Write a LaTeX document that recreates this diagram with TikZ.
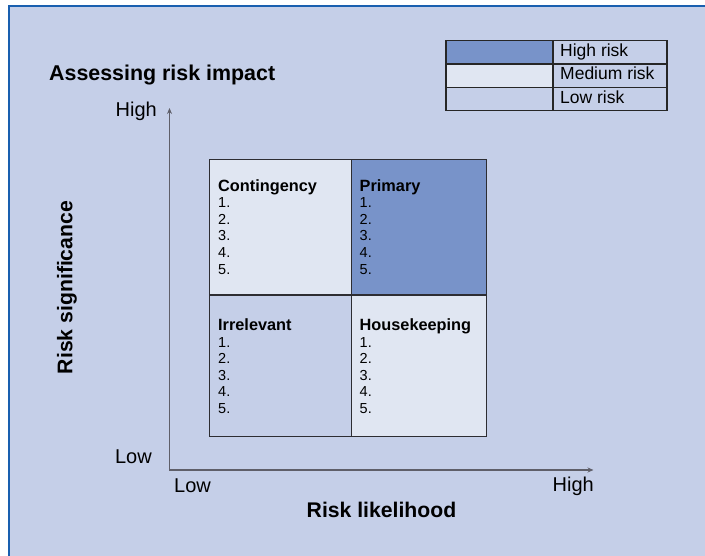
\documentclass[tikz,border=0pt]{standalone}
\usepackage{fontspec}
\setmainfont{Liberation Sans}
\usetikzlibrary{arrows.meta}

\definecolor{bgblue}{RGB}{197,207,232}
\definecolor{frameblue}{RGB}{25,95,175}
\definecolor{hirisk}{RGB}{120,147,201}
\definecolor{medrisk}{RGB}{224,230,242}
\definecolor{gridline}{RGB}{45,45,50}
\definecolor{axisgray}{RGB}{95,95,105}

\newcommand{\headfont}{\fontsize{16.3}{16.6}\selectfont\bfseries}

\begin{document}
\begin{tikzpicture}[x=1pt, y=-1pt,
    quad/.style={rectangle, draw=gridline, line width=1.3pt, inner sep=0pt, anchor=north west},
    key/.style={rectangle, draw=black!85, line width=1.5pt, inner sep=0pt, anchor=north west, minimum height=23.3pt},
    celltext/.style={anchor=north west, inner sep=0pt, align=left, font=\fontsize{14.5}{16.6}\selectfont},
    axislabel/.style={inner sep=0pt, font=\fontsize{20}{24}\selectfont},
    axistitle/.style={inner sep=0pt, anchor=base, font=\fontsize{21.2}{25}\selectfont\bfseries},
    keylabel/.style={inner sep=0pt, anchor=base west, font=\fontsize{17.5}{20}\selectfont},
    axis/.style={axisgray, line width=1.3pt, {Stealth[length=6pt, width=5pt]}-{Stealth[length=6pt, width=5pt]}},
]
\useasboundingbox (0,0) rectangle (705,556);

% Panel
\fill[bgblue] (9,6) rectangle (705,556);
\draw[frameblue, line width=2pt] (9,556) -- (9,6) -- (705,6);

% Title
\node[inner sep=0pt, anchor=base west, font=\fontsize{21.4}{25}\selectfont\bfseries] (title) at (49,81) {Assessing risk impact};

% Legend
\node[key, fill=hirisk, minimum width=107pt] (keyhigh) at (445,40) {};
\node[key, fill=medrisk, minimum width=107pt] (keymed) at (445,63.3) {};
\node[key, fill=bgblue, minimum width=107pt] (keylow) at (445,86.7) {};
\node[key, fill=bgblue, minimum width=114pt] (keyhighbox) at (552,40) {};
\node[key, fill=bgblue, minimum width=114pt] (keymedbox) at (552,63.3) {};
\node[key, fill=bgblue, minimum width=114pt] (keylowbox) at (552,86.7) {};
\node[keylabel] (keyhightext) at (560,56.7) {High risk};
\node[keylabel] (keymedtext) at (560,80) {Medium risk};
\node[keylabel] (keylowtext) at (560,103.3) {Low risk};

% Axes
\coordinate (origin) at (169.5,470);
\coordinate (ytip) at (169.5,108);
\coordinate (xtip) at (593.5,470);
\draw[axis] (ytip) -- (origin) -- (xtip);

\node[axislabel, anchor=base east] (yhigh) at (157,117) {High};
\node[axislabel, anchor=base east] (ylow) at (152,463) {Low};
\node[axislabel, anchor=base west] (xlow) at (174,492) {Low};
\node[axislabel, anchor=base east] (xhigh) at (594,491) {High};
\node[axistitle] (xtitle) at (381.5,517) {Risk likelihood};
\node[axistitle, rotate=90] (ytitle) at (72.3,287.5) {Risk significance};

% Quadrants
\node[quad, fill=medrisk, minimum width=142pt, minimum height=135.5pt] (contingency) at (209,159) {};
\node[quad, fill=hirisk, minimum width=135pt, minimum height=135.5pt] (primary) at (351,159) {};
\node[quad, fill=bgblue, minimum width=142pt, minimum height=141.5pt] (irrelevant) at (209,294.5) {};
\node[quad, fill=medrisk, minimum width=135pt, minimum height=141.5pt] (housekeeping) at (351,294.5) {};

\node[celltext] (contingencytext) at (218,179) {{\headfont Contingency}\\1.\\2.\\3.\\4.\\5.};
\node[celltext] (primarytext) at (359.5,179) {{\headfont Primary}\\1.\\2.\\3.\\4.\\5.};
\node[celltext] (irrelevanttext) at (218,318.5) {{\headfont Irrelevant}\\1.\\2.\\3.\\4.\\5.};
\node[celltext] (housekeepingtext) at (359.5,318.5) {{\headfont Housekeeping}\\1.\\2.\\3.\\4.\\5.};
\end{tikzpicture}
\end{document}
